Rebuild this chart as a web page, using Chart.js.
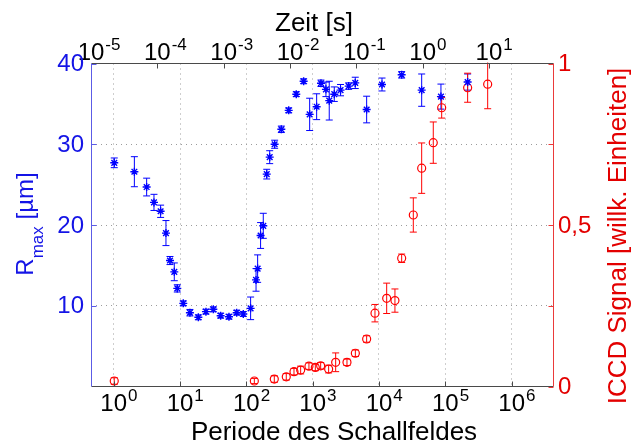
<!DOCTYPE html>
<html><head><meta charset="utf-8">
<script src="https://cdn.jsdelivr.net/npm/chart.js@4.4.1/dist/chart.umd.min.js"></script>
<style>html,body{margin:0;padding:0;background:#fff;}canvas{display:block;}</style>
</head><body>
<canvas id="c" width="641" height="448"></canvas>
<script>
// ---- data ----
const periodR = [1.02, 2.05, 3.14, 4.05, 5.1, 6.14, 7.06, 8.2, 9.1, 11.2, 14.1, 18.9, 24.6, 31.8, 41, 54.7, 71.5, 90, 116, 140, 148, 164, 180, 203, 225, 267, 337, 435, 566, 731, 901, 1148, 1334, 1585, 1778, 2117, 2632, 3490, 4386, 6515, 11100, 21970, 44000, 85900, 217000];
const rmax = [27.7, 26.6, 24.7, 22.8, 21.7, 19.0, 15.6, 14.2, 12.15, 10.3, 9.14, 8.57, 9.27, 9.56, 8.77, 8.64, 9.14, 8.98, 9.68, 13.2, 14.6, 18.7, 19.9, 26.3, 28.4, 30.0, 31.85, 34.2, 36.2, 37.8, 33.7, 34.65, 37.55, 36.8, 35.4, 36.2, 36.7, 37.2, 37.6, 34.3, 37.4, 38.6, 36.7, 35.9, 37.7];
const rmaxErr = [0.6, 1.86, 1.1, 1.0, 0.76, 1.55, 0.5, 1.1, 0.45, 0.3, 0.4, 0.3, 0.3, 0.3, 0.3, 0.3, 0.3, 0.3, 1.4, 1.4, 1.7, 1.6, 1.55, 0.6, 0.8, 0.5, 0.4, 0.3, 0.3, 0.3, 2.0, 1.6, 0.4, 0.9, 2.4, 0.9, 0.7, 0.4, 0.7, 1.65, 0.8, 0.4, 2.0, 1.55, 1.0];
const periodI = [1.02, 132, 264, 400, 523, 659, 879, 1096, 1320, 1741, 2222, 3290, 4400, 6515, 8700, 13060, 17400, 21970, 32900, 44000, 65800, 88100, 217000, 435000];
const iccd = [0.017, 0.017, 0.023, 0.030, 0.046, 0.051, 0.063, 0.059, 0.064, 0.054, 0.075, 0.075, 0.103, 0.147, 0.227, 0.273, 0.266, 0.397, 0.531, 0.676, 0.755, 0.863, 0.925, 0.936];
const iccdErr = [0.01, 0.008, 0.01, 0.01, 0.01, 0.012, 0.01, 0.01, 0.01, 0.012, 0.029, 0.01, 0.01, 0.01, 0.027, 0.047, 0.036, 0.013, 0.053, 0.078, 0.064, 0.032, 0.045, 0.076];

const xTicks = [1, 10, 100, 1e3, 1e4, 1e5, 1e6];
const xTickExp = ['0', '1', '2', '3', '4', '5', '6'];
const topTicks = [1e-5, 1e-4, 1e-3, 1e-2, 1e-1, 1, 10];
const topTickExp = ['-5', '-4', '-3', '-2', '-1', '0', '1'];
const leftTicks = [10, 20, 30, 40];
const leftLabels = ['10', '20', '30', '40'];
const rightTicks = [0, 0.25, 0.5, 0.75, 1];
const rightLabelVals = [0, 0.5, 1];
const rightLabels = ['0', '0,5', '1'];

const xMin = 0.455, xMax = 4.35e6;
const topMin = 1.0e-5, topMax = 95.6;

const BLUE = '#0000ff', RED = '#ff0000';
const BLUE_T = '#1414e6', RED_T = '#e30000';
const FONT = '"Liberation Sans", Arial, sans-serif';

const errSets = [rmaxErr, iccdErr];

const errorBars = {
  id: 'errorBars',
  beforeDatasetsDraw(chart) {
    const ctx = chart.ctx, a = chart.chartArea;
    ctx.save();
    ctx.beginPath(); ctx.rect(a.left, a.top - 1, a.right - a.left, a.bottom - a.top + 2); ctx.clip();
    chart.data.datasets.forEach((ds, i) => {
      const xs = chart.scales.x, ys = chart.scales[ds.yAxisID];
      const errs = errSets[i];
      ctx.strokeStyle = ds.borderColor; ctx.lineWidth = 1;
      ds.data.forEach((p, j) => {
        const e = errs[j];
        const px = xs.getPixelForValue(p.x);
        const y1 = ys.getPixelForValue(p.y - e), y2 = ys.getPixelForValue(p.y + e);
        ctx.beginPath();
        ctx.moveTo(px, y1); ctx.lineTo(px, y2);
        ctx.moveTo(px - 3.5, y1); ctx.lineTo(px + 3.5, y1);
        ctx.moveTo(px - 3.5, y2); ctx.lineTo(px + 3.5, y2);
        ctx.stroke();
      });
    });
    ctx.restore();
  }
};

function supLabel(ctx, x, yBase, base, exp) {
  ctx.font = '24px ' + FONT;
  const w = ctx.measureText(base).width;
  ctx.textAlign = 'left'; ctx.textBaseline = 'alphabetic';
  ctx.fillText(base, x - w / 2, yBase);
  ctx.font = '17px ' + FONT;
  ctx.fillText(exp, x + w / 2 + 1, yBase - 10);
}

const axesDeco = {
  id: 'axesDeco',
  afterDatasetsDraw(chart) {
    const ctx = chart.ctx, a = chart.chartArea;
    const sx = chart.scales.x, sx2 = chart.scales.x2, sy = chart.scales.y, sy2 = chart.scales.y2;
    const L = a.left + 0.5, R = a.right - 0.5, T = a.top, B = a.bottom;
    const tl = 5;
    ctx.save();
    ctx.lineWidth = 1;
    // bottom & top lines
    ctx.strokeStyle = '#4a4a4a';
    ctx.beginPath(); ctx.moveTo(L, B); ctx.lineTo(R, B); ctx.moveTo(L, T); ctx.lineTo(R, T); ctx.stroke();
    // bottom ticks
    ctx.beginPath();
    xTicks.forEach(v => { const x = Math.round(sx.getPixelForValue(v)) + 0.5; ctx.moveTo(x, B); ctx.lineTo(x, B - tl); });
    topTicks.forEach(v => { if (v <= topMin) return; const x = Math.round(sx2.getPixelForValue(v)) + 0.5; ctx.moveTo(x, T); ctx.lineTo(x, T + tl); });
    ctx.stroke();
    // left axis
    ctx.strokeStyle = '#5c5ce6';
    ctx.beginPath(); ctx.moveTo(L, T); ctx.lineTo(L, B);
    leftTicks.forEach(v => { const y = Math.round(sy.getPixelForValue(v)) + 0.5; ctx.moveTo(L, y); ctx.lineTo(L + tl, y); });
    ctx.stroke();
    // right axis
    ctx.strokeStyle = '#ea3a3a';
    ctx.beginPath(); ctx.moveTo(R, T); ctx.lineTo(R, B);
    rightTicks.forEach(v => { const y = Math.round(sy2.getPixelForValue(v)) + 0.5; ctx.moveTo(R, y); ctx.lineTo(R - tl, y); });
    ctx.stroke();

    // tick labels
    ctx.fillStyle = '#000';
    xTicks.forEach((v, i) => supLabel(ctx, sx.getPixelForValue(v), 411, '10', xTickExp[i]));
    topTicks.forEach((v, i) => supLabel(ctx, sx2.getPixelForValue(v), 60, '10', topTickExp[i]));
    ctx.font = '24px ' + FONT;
    ctx.fillStyle = BLUE_T; ctx.textAlign = 'right'; ctx.textBaseline = 'middle';
    leftTicks.forEach((v, i) => ctx.fillText(leftLabels[i], a.left - 7, sy.getPixelForValue(v) + 1));
    ctx.fillStyle = RED_T; ctx.textAlign = 'left';
    rightLabelVals.forEach((v, i) => ctx.fillText(rightLabels[i], a.right + 4, sy2.getPixelForValue(v) + 1));

    // axis titles
    ctx.fillStyle = '#000'; ctx.textBaseline = 'alphabetic'; ctx.textAlign = 'center';
    ctx.font = '26px ' + FONT;
    ctx.fillText('Zeit [s]', 314, 31);
    ctx.fillText('Periode des Schallfeldes', 334, 440);

    // left title R_max [µm]
    ctx.save();
    ctx.translate(33, 224); ctx.rotate(-Math.PI / 2);
    ctx.fillStyle = BLUE_T; ctx.textAlign = 'left';
    ctx.font = '24px ' + FONT;
    const wR = ctx.measureText('R').width, wU = ctx.measureText(' [\u00b5m]').width;
    ctx.font = '17px ' + FONT;
    const wM = ctx.measureText('max').width;
    let x0 = -(wR + wM + wU) / 2;
    ctx.font = '24px ' + FONT; ctx.fillText('R', x0, 0);
    ctx.font = '17px ' + FONT; ctx.fillText('max', x0 + wR, 10);
    ctx.font = '24px ' + FONT; ctx.fillText(' [\u00b5m]', x0 + wR + wM, 0);
    ctx.restore();

    // right title
    ctx.save();
    ctx.translate(626, 236); ctx.rotate(-Math.PI / 2);
    ctx.fillStyle = RED_T; ctx.textAlign = 'center';
    ctx.font = '26px ' + FONT;
    ctx.fillText('ICCD Signal [willk. Einheiten]', 0, 0);
    ctx.restore();
    ctx.restore();
  }
};

const dotted = [1, 4];
new Chart(document.getElementById('c'), {
  type: 'scatter',
  data: {
    datasets: [
      {
        label: 'Rmax', yAxisID: 'y',
        data: periodR.map((p, i) => ({ x: p, y: rmax[i] })),
        borderColor: BLUE, backgroundColor: BLUE, pointStyle: 'star',
        pointRadius: 4, pointBorderWidth: 1.4, showLine: false
      },
      {
        label: 'ICCD', yAxisID: 'y2',
        data: periodI.map((p, i) => ({ x: p, y: iccd[i] })),
        borderColor: RED, backgroundColor: 'rgba(0,0,0,0)', pointStyle: 'circle',
        pointRadius: 4, pointBorderWidth: 1.2, showLine: false
      }
    ]
  },
  options: {
    responsive: false, animation: false, devicePixelRatio: 1,
    layout: { padding: 0, autoPadding: false },
    plugins: { legend: { display: false }, tooltip: { enabled: false } },
    events: [],
    scales: {
      x: {
        type: 'logarithmic', position: 'bottom', min: xMin, max: xMax,
        ticks: { display: false },
        grid: { color: '#9c9c9c', lineWidth: 1, drawTicks: false },
        border: { display: false, dash: dotted },
        afterBuildTicks: s => { s.ticks = xTicks.map(v => ({ value: v })); },
        afterFit: s => { s.height = 61.5; }
      },
      x2: {
        type: 'logarithmic', position: 'top', min: topMin, max: topMax,
        ticks: { display: false }, grid: { display: false, drawTicks: false }, border: { display: false },
        afterFit: s => { s.height = 63.5; }
      },
      y: {
        type: 'linear', position: 'left', min: 0, max: 40,
        ticks: { display: false },
        grid: { color: '#9c9c9c', lineWidth: 1, drawTicks: false },
        border: { display: false, dash: dotted },
        afterBuildTicks: s => { s.ticks = [10, 20, 30].map(v => ({ value: v })); },
        afterFit: s => { s.width = 91; }
      },
      y2: {
        type: 'linear', position: 'right', min: 0, max: 1,
        ticks: { display: false }, grid: { display: false, drawTicks: false }, border: { display: false },
        afterFit: s => { s.width = 87; }
      }
    }
  },
  plugins: [errorBars, axesDeco]
});
</script>
</body></html>
